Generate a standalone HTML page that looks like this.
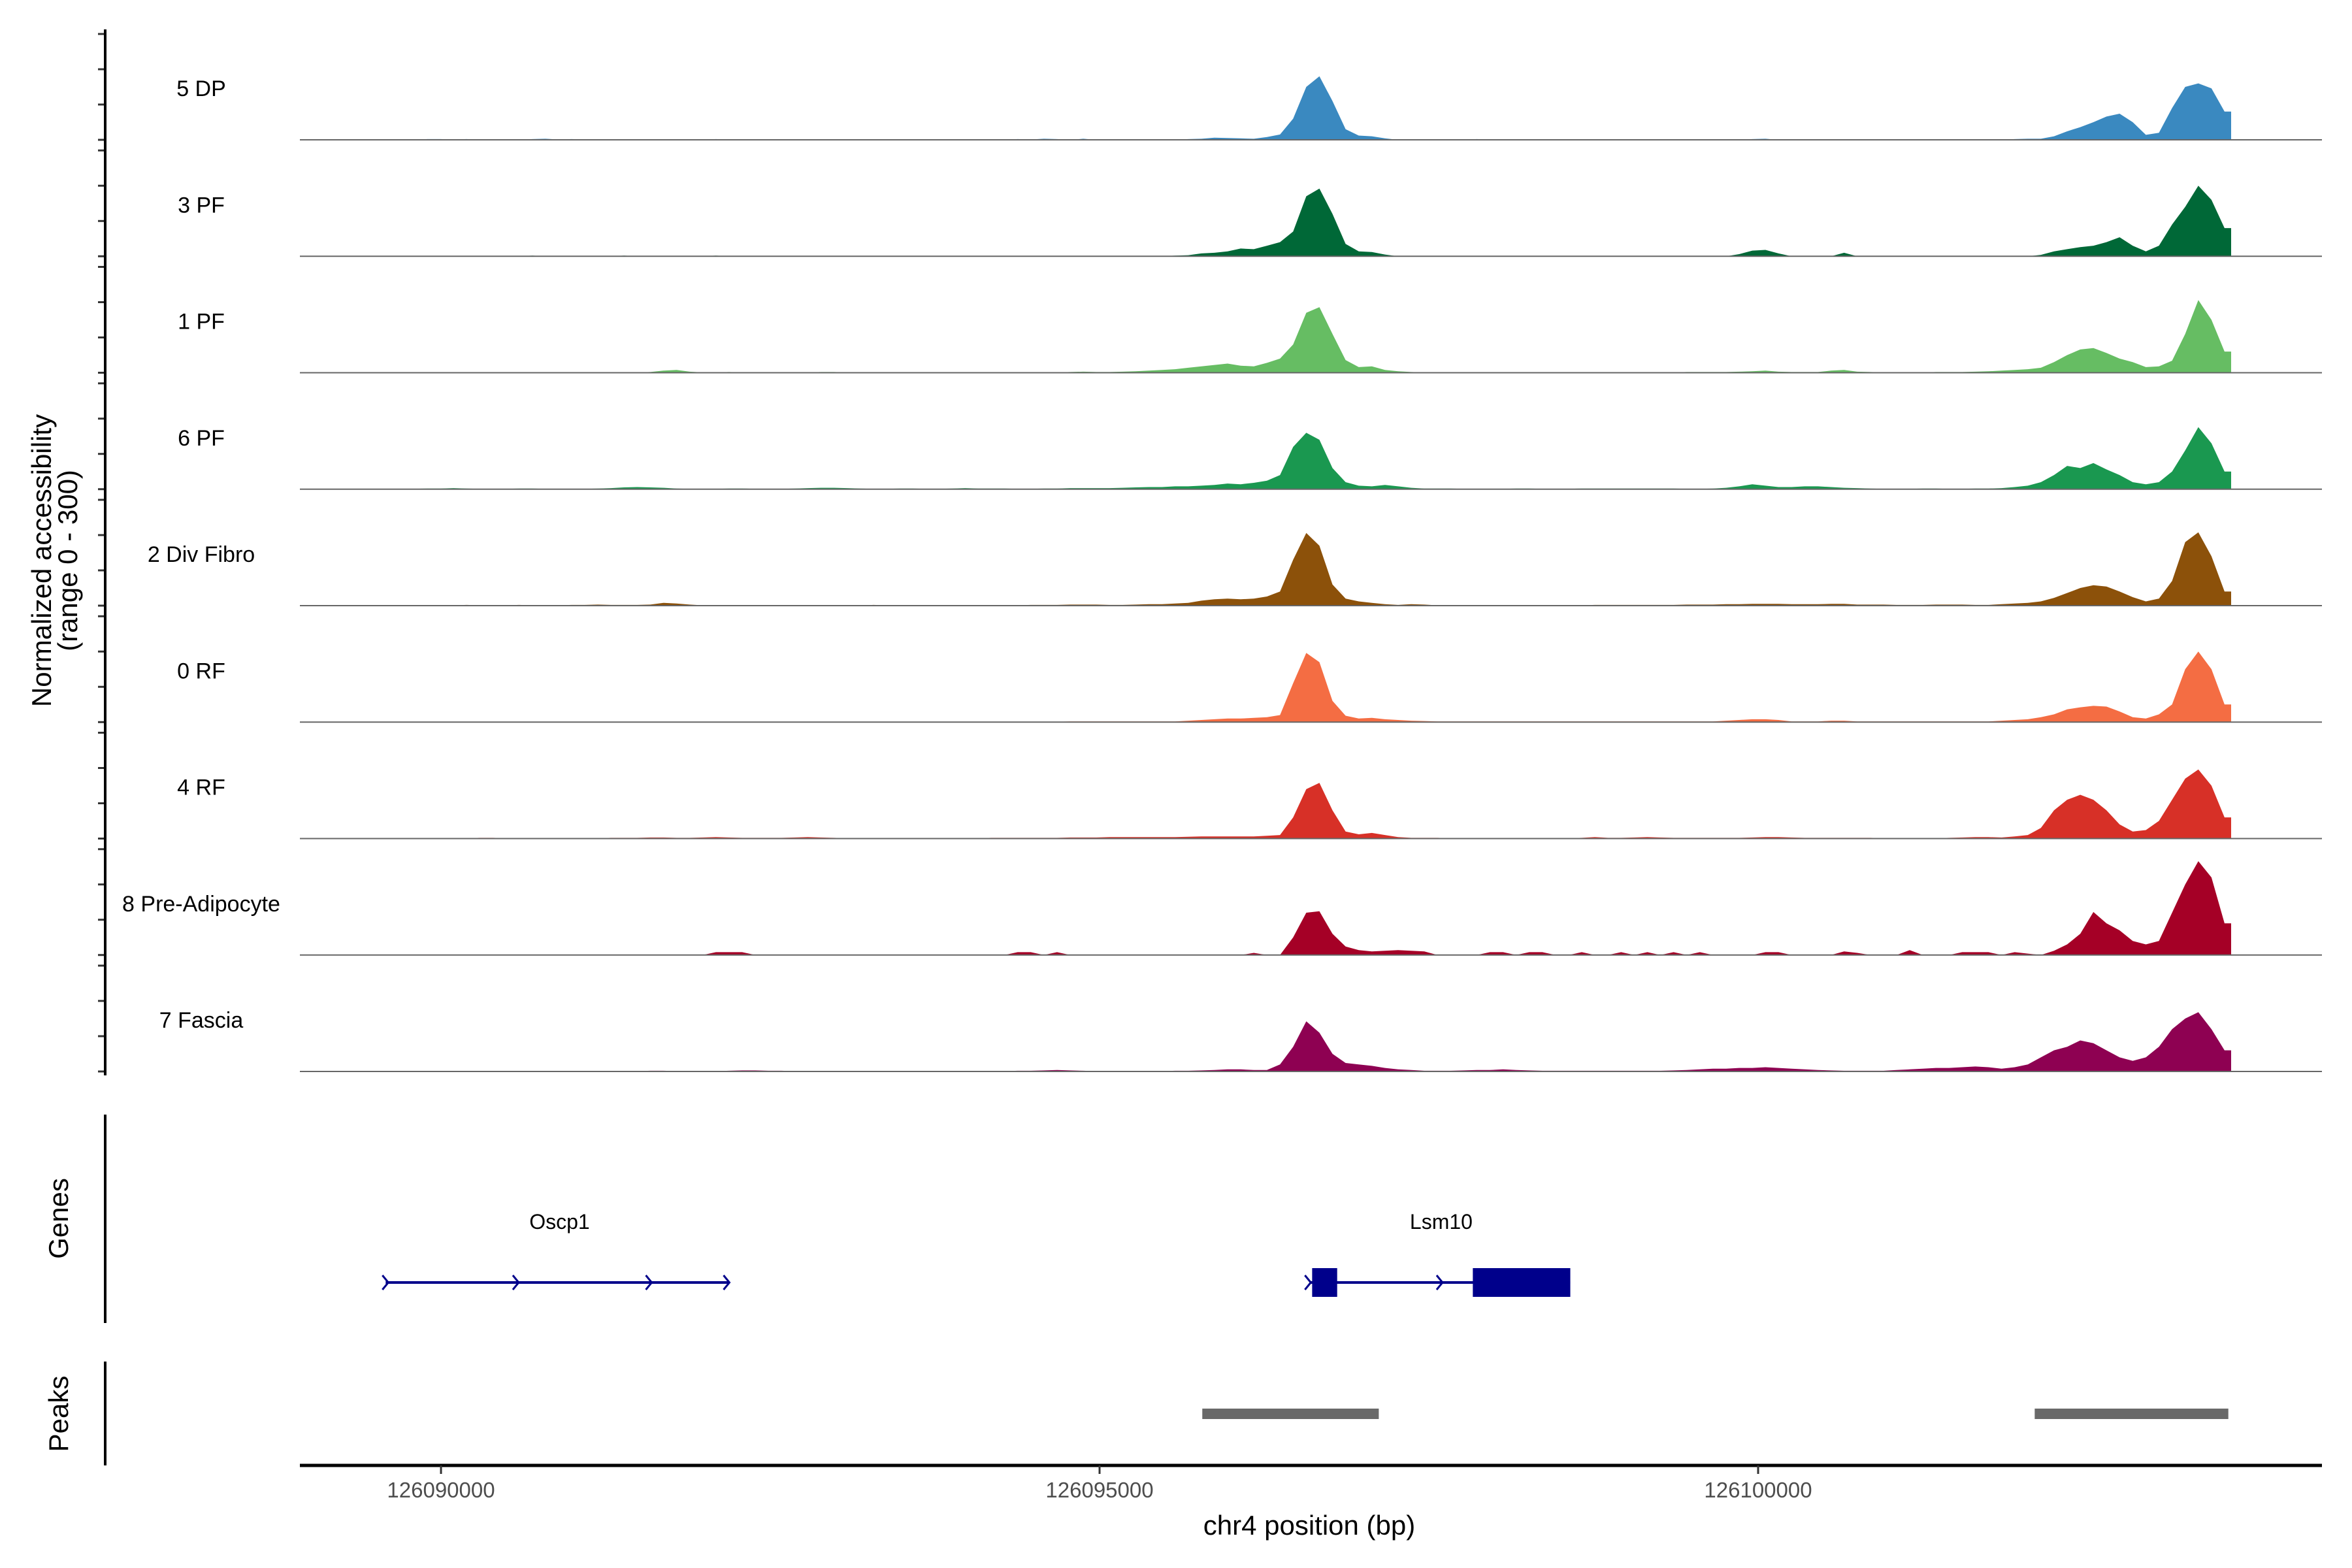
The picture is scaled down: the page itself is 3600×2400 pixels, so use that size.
<!DOCTYPE html>
<html><head><meta charset="utf-8"><style>
html,body{margin:0;padding:0;background:#fff;}
svg{display:block;font-family:"Liberation Sans",Arial,sans-serif;}
</style></head><body>
<svg id="chart" width="3600" height="2400" viewBox="0 0 3600 2400" xmlns="http://www.w3.org/2000/svg">
<rect x="0" y="0" width="3600" height="2400" fill="#fff"/>
<g id="tracks"></g>
<g id="axes"></g>
<text transform="translate(78,858) rotate(-90)" text-anchor="middle" font-size="42" fill="#000">Normalized accessibility</text>
<text transform="translate(118,858) rotate(-90)" text-anchor="middle" font-size="42" fill="#000">(range 0 - 300)</text>
<text transform="translate(104,1865) rotate(-90)" text-anchor="middle" font-size="42" fill="#000">Genes</text>
<text transform="translate(104,2164) rotate(-90)" text-anchor="middle" font-size="42" fill="#000">Peaks</text>
<text x="2004" y="2349" text-anchor="middle" font-size="42" fill="#000">chr4 position (bp)</text>
<g id="genes"></g>
<g id="peaks"></g>
</svg>
<script>
const binStart = 126088950;
const binSize = 99.6;
const trackNames = ["5 DP","3 PF","1 PF","6 PF","2 Div Fibro","0 RF","4 RF","8 Pre-Adipocyte","7 Fascia"];
const trackColors = ["#3a89c0","#006837","#66bd63","#1a9850","#8c510a","#f46d43","#d73027","#a50026","#8e0152"];
const xTicks = [126090000,126095000,126100000];
const xTickLabels = ["126090000","126095000","126100000"];
const peakStarts = [126095780,126102100];
const peakEnds = [126097120,126103570];
const geneNames = ["Oscp1","Lsm10"];
const geneStarts = [126089580,126096594];
const geneEnds = [126092190,126098574];
const geneLabelPos = [126090900,126097594];
const lsm10ExonStarts = [126096614,126097834];
const lsm10ExonEnds = [126096804,126098574];

const t5DP = [0,0,0,0,0,0,0,0,0,2, 2,1,2,0,0,0,0,2,3,1, 2,1,0,0,0,0,0,0,0,0, 0,2,0,0,0,0,0,0,0,0, 0,0,0,0,0,0,0,0,0,0, 0,0,0,0,2,1,3,2,0,3, 0,0,0,0,0,0,0,2,3,6, 5,4,3,8,15,60,150,180,110,30, 12,10,4,0,0,0,0,0,0,2, 0,0,0,0,0,0,0,0,0,0, 0,0,0,0,0,0,0,0,0,0, 2,3,0,0,0,0,0,0,0,0, 0,0,0,0,0,0,0,0,0,0, 2,3,3,10,24,36,50,66,74,50, 14,20,90,150,160,146,80];
const t3PF = [0,0,0,0,0,0,0,0,0,0, 0,0,0,0,0,0,0,2,0,0, 0,0,0,0,2,0,0,0,0,0, 0,2,0,0,0,0,0,0,0,0, 0,0,0,0,0,0,0,0,0,0, 0,0,0,0,0,0,0,0,0,0, 0,0,0,0,0,0,2,3,8,10, 14,22,20,30,40,70,170,192,120,35, 14,12,5,0,0,0,0,0,0,0, 0,0,0,0,0,0,0,0,0,0, 0,0,0,0,0,0,0,0,0,6, 16,18,8,0,0,0,0,10,0,0, 0,0,0,0,0,0,0,0,0,0, 0,0,4,14,20,26,30,40,54,30, 14,30,90,140,200,160,80];
const t1PF = [0,0,0,0,0,0,0,0,0,0, 0,0,0,0,0,0,0,0,0,0, 1,1,1,1,1,1,2,6,8,3, 1,1,2,1,1,1,1,1,1,2, 2,1,1,1,1,1,1,1,1,1, 1,1,1,1,1,1,1,1,2,3, 2,2,3,4,6,8,10,14,18,22, 26,20,18,28,40,80,170,186,110,36, 16,18,8,4,2,1,1,1,1,1, 1,1,1,1,1,1,1,1,1,1, 1,1,1,1,1,2,2,2,2,3, 4,6,3,2,2,2,6,8,3,2, 1,1,1,1,2,2,2,3,4,6, 8,10,14,30,50,66,70,56,40,30, 16,18,34,110,206,150,60];
const t6PF = [0,0,0,0,0,0,0,0,1,2, 2,3,2,1,1,1,2,2,1,1, 1,1,2,3,5,6,5,4,2,1, 1,1,2,2,1,1,1,2,3,4, 4,3,2,1,1,2,2,1,1,2, 3,2,2,2,1,1,2,2,3,3, 3,3,4,5,6,6,8,8,10,12, 16,14,18,24,40,120,160,140,60,20, 10,8,12,8,4,2,2,2,1,1, 1,1,2,2,1,1,1,2,2,2, 2,2,2,2,2,1,1,2,4,8, 14,10,6,6,8,8,6,4,3,2, 1,1,1,2,2,1,1,2,2,3, 6,10,20,40,66,60,74,56,40,20, 14,20,50,110,176,130,50];
const t2Div = [0,0,0,0,0,0,0,0,0,1, 1,1,2,1,1,1,2,1,1,1, 2,2,3,2,2,2,3,8,6,3, 1,1,1,0,0,0,0,0,0,0, 0,0,0,2,1,0,0,0,0,0, 0,1,1,1,1,2,2,2,3,3, 3,2,2,3,4,4,6,8,14,18, 20,18,20,26,40,130,206,170,60,20, 12,8,4,2,4,3,1,1,1,1, 1,1,1,1,1,1,1,1,2,2, 2,2,2,2,2,3,3,3,4,4, 5,5,5,4,4,4,5,5,3,3, 3,2,2,2,3,3,3,2,2,4, 6,8,12,22,36,50,58,54,40,24, 12,20,70,180,208,140,40];
const t0RF = [0,0,0,0,0,0,0,0,0,0, 0,0,0,0,0,0,0,0,1,1, 1,1,1,1,1,1,1,1,1,1, 1,1,1,1,1,1,1,1,1,1, 1,1,1,1,1,1,1,1,1,1, 1,1,1,1,1,1,1,1,2,2, 2,2,2,2,2,2,2,4,6,8, 10,10,12,14,20,110,196,170,60,18, 10,12,8,6,4,3,2,2,2,2, 2,2,2,2,2,2,2,2,2,2, 2,2,2,2,2,2,2,2,4,6, 8,8,6,2,2,2,4,4,2,2, 2,2,2,2,2,2,2,2,2,4, 6,8,14,22,36,42,46,44,30,14, 10,22,50,150,200,150,50];
const t4RF = [0,0,0,0,0,0,0,0,0,0, 1,1,1,2,2,1,1,1,1,1, 1,1,1,2,2,2,3,3,2,2, 3,4,3,2,2,2,2,3,4,3, 2,1,1,1,1,1,1,1,1,1, 1,1,2,2,2,2,2,2,3,3, 3,4,4,4,4,4,4,5,6,6, 6,6,6,8,10,60,140,158,80,20, 12,16,10,4,2,2,2,1,1,1, 1,1,1,1,1,1,1,2,4,2, 2,3,4,3,2,2,2,2,2,2, 3,4,4,3,2,2,2,2,2,2, 1,1,1,1,1,2,3,4,4,3, 6,10,30,80,110,124,110,80,40,20, 24,50,110,170,196,150,60];
const t8PreAd = [0,0,0,0,0,0,0,0,0,0, 0,0,0,0,0,0,0,0,0,0, 0,0,0,0,0,0,0,0,0,0, 0,8,8,8,0,0,0,0,0,0, 0,0,0,0,0,0,0,0,0,0, 0,0,0,0,8,8,0,8,0,0, 0,0,0,0,0,0,0,0,0,0, 0,0,6,0,0,50,120,124,60,24, 14,10,12,14,12,10,0,0,0,0, 8,8,0,8,8,0,0,8,0,0, 8,0,8,0,8,0,8,0,0,0, 0,8,8,0,0,0,0,10,6,0, 0,0,14,0,0,0,8,8,8,0, 8,4,0,12,30,60,122,90,70,40, 30,40,120,200,266,220,90];
const t7Fascia = [0,0,0,0,0,0,0,0,0,0, 0,0,0,0,1,1,1,0,0,0, 1,1,0,0,0,1,2,2,1,1, 1,1,2,3,3,2,2,1,1,1, 0,0,0,0,0,0,0,0,0,0, 0,0,1,1,2,2,3,4,3,2, 1,1,1,1,1,1,2,2,3,4, 6,6,4,4,20,70,142,110,50,24, 20,16,10,6,4,2,2,2,3,4, 4,6,4,3,2,2,2,2,2,2, 2,2,2,2,3,4,6,8,8,10, 10,12,10,8,6,4,3,2,2,2, 2,4,6,8,10,10,12,14,12,8, 12,20,40,60,70,88,80,60,40,30, 40,70,120,150,168,120,60];
const trackValues = [t5DP,t3PF,t1PF,t6PF,t2Div,t0RF,t4RF,t8PreAd,t7Fascia];

const NS = "http://www.w3.org/2000/svg";
function xPos(bp){ return 675 + (bp - 126090000) * 0.2016; }
const firstBase = 214, trackStep = 178.25, yPerUnit = 0.54;
function baseY(i){ return firstBase + i * trackStep; }
function yVal(i, v){ return baseY(i) - v * yPerUnit; }
function mk(tag, attrs, parent){ const e = document.createElementNS(NS, tag); for (const k in attrs) e.setAttribute(k, attrs[k]); parent.appendChild(e); return e; }

const tracksG = document.getElementById('tracks');
const axesG = document.getElementById('axes');
const xLeft = 459, xRight = 3554;

trackValues.forEach((vals, i) => {
  let d = 'M' + xPos(binStart).toFixed(1) + ',' + baseY(i).toFixed(1);
  vals.forEach((v, j) => {
    const xc = xPos(binStart + (j + 0.5) * binSize);
    d += ' L' + xc.toFixed(1) + ',' + yVal(i, v).toFixed(1);
  });
  const xe = xPos(binStart + vals.length * binSize);
  d += ' L' + xe.toFixed(1) + ',' + yVal(i, vals[vals.length - 1]).toFixed(1);
  d += ' L' + xe.toFixed(1) + ',' + baseY(i).toFixed(1) + ' Z';
  const p = mk('path', {d: d, fill: trackColors[i], stroke: 'none'}, tracksG);
  
  
  const bl = mk('line', {x1: xLeft, x2: xRight, y1: baseY(i), y2: baseY(i), stroke: '#666', 'stroke-width': 2}, tracksG);
  
  
  const lbl = mk('text', {x: 308, y: baseY(i) - 79 + 12, 'text-anchor': 'middle', 'font-size': 34, fill: '#000'}, tracksG);
  lbl.textContent = trackNames[i];
  
  
  [0, 100, 200, 300].forEach(tv => {
    const tk = mk('line', {x1: 150, x2: 161, y1: yVal(i, tv), y2: yVal(i, tv), stroke: '#333', 'stroke-width': 3}, axesG);
    
    
  });
});
const yAxis = mk('line', {x1: 161, x2: 161, y1: 45, y2: 1646, stroke: '#000', 'stroke-width': 4}, axesG);


const gAxis = mk('line', {x1: 161, x2: 161, y1: 1706, y2: 2025, stroke: '#000', 'stroke-width': 4}, axesG);


const pAxis = mk('line', {x1: 161, x2: 161, y1: 2084, y2: 2243, stroke: '#000', 'stroke-width': 4}, axesG);


const xAxis = mk('line', {x1: xLeft, x2: xRight, y1: 2243, y2: 2243, stroke: '#000', 'stroke-width': 5}, axesG);


xTicks.forEach((t, k) => {
  const tk = mk('line', {x1: xPos(t), x2: xPos(t), y1: 2243, y2: 2256, stroke: '#333', 'stroke-width': 3}, axesG);
  
  
  const tl = mk('text', {x: xPos(t), y: 2292, 'text-anchor': 'middle', 'font-size': 33, fill: '#4d4d4d'}, axesG);
  tl.textContent = xTickLabels[k];
  
  
});

const genesG = document.getElementById('genes');
const navy = '#00008b';
const geneY = 1963;
geneNames.forEach((g, k) => {
  const ln = mk('line', {x1: xPos(geneStarts[k]), x2: xPos(geneEnds[k]), y1: geneY, y2: geneY, stroke: navy, 'stroke-width': 4}, genesG);
  
  
  const lb = mk('text', {x: xPos(geneLabelPos[k]), y: 1881, 'text-anchor': 'middle', 'font-size': 32, fill: '#000'}, genesG);
  lb.textContent = g;
  
  
});
const oscArrows = [126089580,126090570,126091580,126092170];
oscArrows.forEach(a => {
  const x = xPos(a);
  const ar = mk('path', {d: 'M' + (x-5) + ',' + (geneY-11) + ' L' + (x+4) + ',' + geneY + ' L' + (x-5) + ',' + (geneY+11), fill: 'none', stroke: navy, 'stroke-width': 3}, genesG);
  
  
});
[126096584,126097584].forEach(a => {
  const x = xPos(a);
  const ar = mk('path', {d: 'M' + (x-5) + ',' + (geneY-11) + ' L' + (x+4) + ',' + geneY + ' L' + (x-5) + ',' + (geneY+11), fill: 'none', stroke: navy, 'stroke-width': 3}, genesG);
  
  
});
lsm10ExonStarts.forEach((s, k) => {
  const r = mk('rect', {x: xPos(s), y: 1941, width: xPos(lsm10ExonEnds[k]) - xPos(s), height: 44, fill: navy}, genesG);
  
  
});

const peaksG = document.getElementById('peaks');
peakStarts.forEach((s, k) => {
  const r = mk('rect', {x: xPos(s), y: 2156, width: xPos(peakEnds[k]) - xPos(s), height: 16, fill: '#696969'}, peaksG);
  
  
});
</script>
</body></html>
